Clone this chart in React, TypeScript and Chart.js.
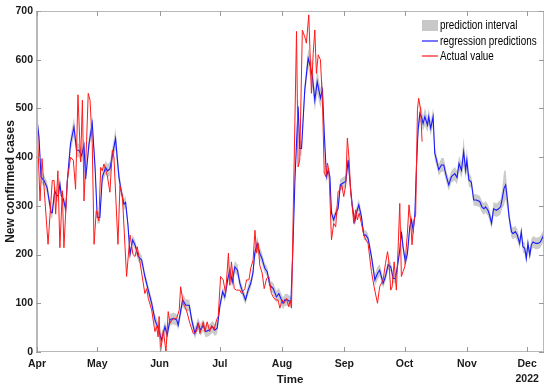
import { useEffect, useRef } from 'react';
import { Chart, registerables } from 'chart.js';

Chart.register(...registerables);

// x values are days since 1 Apr 2022
const monthTickDays = [0, 30, 61, 91, 122, 153, 183, 214, 244];
const monthTickLabels = ['Apr', 'May', 'Jun', 'Jul', 'Aug', 'Sep', 'Oct', 'Nov', 'Dec'];
const yearLabel = '2022';
const yTicks = [0, 100, 200, 300, 400, 500, 600, 700];

const predDays = [
  0, 1, 2, 3.5, 5, 7, 7.6, 8.8, 9.8, 10.6, 11.4, 12.1, 13.1, 14.3, 15.1, 16.7, 18.4, 19.7, 20.9, 22.2,
  23.4, 24.2, 25.9, 27.5, 28.9, 30, 31.3, 32.5, 34.2, 35, 36.3, 37.5, 39.1, 40.8, 42, 43.3, 44.1, 45.3, 46.3, 47.6,
  48.8, 50.4, 52.1, 53.7, 55.4, 57.1, 58.7, 60.3, 62, 63.7, 64.8, 66.2, 67.8, 69.5, 70.3, 72.5, 74.1, 75.8, 77, 78.6,
  80.2, 81.4, 82.7, 84, 85.7, 87.4, 88.5, 89.7, 91, 92.4, 93.5, 94.9, 96, 97.2, 98.5, 99.8, 101, 102.6, 103.8, 105.1,
  106.4, 107.5, 108.4, 109.6, 110.9, 112, 113.4, 114.6, 115.9, 117.6, 119.2, 120.4, 121.4, 122.5, 123.4, 124.7, 125.9, 126.4, 127.3, 128.4,
  130, 130.8, 131.7, 133.3, 135, 136.1, 137.1, 138.3, 139.5, 140.5, 141.1, 142.1, 143, 144.1, 145, 145.8, 146.6, 147.7, 148.7, 149.9,
  151, 152.4, 153.7, 154.9, 156, 157, 158.2, 159, 160.2, 161.5, 162.7, 163.7, 164.8, 166.5, 168.2, 169.5, 170.6, 172.3, 173.5, 174.8,
  176.1, 177.3, 178.4, 179.4, 180.6, 181.4, 182.2, 183.4, 184.4, 185.6, 186.4, 187.3, 188.1, 188.9, 189.7, 190.6, 191.4, 192.2, 193.1, 194.4,
  195, 196, 197.2, 198, 198.9, 200, 201.3, 202.5, 203.8, 205, 206.3, 208, 209.1, 210.1, 211.3, 212.4, 213.4, 214, 215, 216.2,
  217.4, 218.7, 220.4, 221.5, 222.5, 223.3, 224.5, 225.3, 226.3, 227.3, 228.7, 229.8, 230.8, 231.6, 232.5, 233.3, 234.2, 235, 236.2, 237,
  238.1, 239.1, 240.3, 241.1, 241.9, 242.8, 243.6, 244.4, 245.3, 246.1, 246.9, 248.3, 249.4, 250.6, 251.9, 252.4,
];

const predValues = [
  476, 440, 359, 352, 338, 286, 286, 331, 321, 321, 345, 321, 314, 293, 352, 428, 462, 414, 414, 403,
  424, 355, 428, 469, 379, 276, 276, 359, 379, 372, 376, 403, 438, 359, 328, 303, 307, 260, 200, 230,
  220, 196, 189, 155, 127, 100, 66, 49, 25, 52, 35, 66, 69, 66, 55, 107, 96, 96, 66, 38,
  59, 45, 55, 42, 45, 52, 45, 49, 93, 124, 113, 148, 168, 144, 175, 168, 141, 120, 107, 127,
  141, 162, 203, 223, 203, 192, 172, 165, 137, 130, 113, 120, 110, 100, 107, 107, 103, 103, 200, 353,
  504, 418, 418, 538, 603, 586, 565, 517, 555, 534, 521, 538, 449, 360, 374, 360, 285, 271, 285, 295,
  343, 347, 350, 394, 340, 299, 268, 285, 302, 278, 240, 240, 233, 196, 148, 161, 168, 141, 155, 179,
  175, 151, 151, 175, 209, 247, 216, 185, 202, 257, 271, 250, 281, 380, 455, 490, 483, 469, 483, 466,
  483, 459, 483, 408, 394, 374, 384, 384, 360, 343, 360, 366, 358, 387, 373, 411, 373, 394, 353, 349,
  312, 312, 309, 298, 294, 298, 291, 281, 264, 294, 291, 294, 298, 315, 336, 343, 312, 278, 247, 243,
  247, 240, 223, 247, 216, 213, 192, 223, 199, 220, 226, 223, 223, 226, 237, 243,
];

// half-width of the grey prediction interval at each prediction point
const predBand = [
  15, 15, 12, 12, 12, 12, 12, 12, 12, 12, 14, 12, 12, 12, 12, 15, 20, 14, 14, 14,
  14, 12, 15, 18, 12, 12, 12, 12, 14, 14, 14, 15, 22, 14, 12, 12, 12, 10, 10, 10,
  10, 10, 10, 10, 10, 10, 12, 12, 12, 12, 12, 12, 12, 12, 10, 14, 12, 12, 10, 12,
  12, 12, 12, 12, 12, 12, 12, 12, 10, 10, 10, 10, 12, 12, 12, 12, 10, 10, 10, 10,
  10, 10, 12, 14, 12, 12, 10, 10, 10, 12, 12, 12, 12, 12, 12, 12, 12, 10, 10, 12,
  15, 15, 15, 15, 20, 22, 25, 22, 25, 22, 20, 20, 14, 12, 12, 12, 10, 10, 10, 10,
  12, 12, 12, 14, 12, 10, 10, 12, 12, 10, 10, 10, 10, 10, 12, 14, 12, 10, 10, 10,
  10, 10, 10, 10, 12, 12, 12, 10, 12, 12, 12, 12, 12, 15, 15, 18, 18, 15, 18, 15,
  18, 15, 18, 14, 12, 12, 14, 14, 12, 12, 12, 14, 14, 16, 16, 30, 16, 25, 14, 12,
  12, 12, 12, 12, 12, 12, 12, 12, 12, 14, 14, 15, 15, 20, 35, 30, 18, 12, 12, 12,
  12, 12, 12, 12, 12, 12, 12, 12, 12, 12, 12, 12, 12, 12, 12, 12,
];

const actualDays = [
  0, 0.5, 1.5, 2.5, 3.5, 5.5, 7.6, 8.5, 9.3, 10.4, 11.4, 12.6, 13.4, 15.1, 16.7, 18.1, 19.2, 20.4, 21.7, 22.6,
  23.4, 24.7, 25.5, 26.4, 27.5, 28.4, 29.5, 30.8, 31.7, 32.5, 33.3, 35, 36.3, 37.5, 38.3, 40.3, 41.3, 42.5, 44.6, 46.3,
  47.8, 48.8, 49.9, 51.2, 53.7, 54.6, 55.4, 57.1, 58.7, 59.5, 60.3, 60.8, 61.5, 62.9, 64.2, 65.3, 66.2, 67.8, 69.5, 70.8,
  71.5, 72.8, 74.4, 76.1, 77.8, 79.4, 80.3, 81.1, 82.8, 83.6, 84.7, 86, 86.9, 88.1, 89.4, 90.2, 91.4, 92.7, 93.9, 95.3,
  96, 96.8, 98.2, 99.3, 101, 101.8, 103.5, 104.3, 105.5, 106.4, 107.6, 108.5, 109.3, 110.1, 110.9, 112.1, 113.1, 114.3, 115.4, 116.7,
  117.6, 118.7, 120, 120.9, 122, 123, 124.2, 125.3, 126, 126.7, 129.2, 130, 130.8, 132.1, 133.3, 134.1, 135.3, 136.6, 137.5, 138.3,
  139.1, 140, 141.1, 142.1, 143, 143.8, 144.6, 145.4, 146.6, 147.7, 148.7, 149.9, 150.7, 151.7, 152.7, 153.7, 154.5, 155.4, 156.2, 157,
  157.7, 158.7, 159.5, 160.4, 161.5, 162.7, 163.7, 164.8, 166.5, 167.8, 169.5, 170.6, 172.3, 173.5, 174.5, 175.1, 176.1, 176.8, 177.8, 178.9,
  179.8, 180.6, 181.4, 182.2, 183.1, 184.4, 185.2, 186.1, 186.7, 187.7, 188.5, 189.4, 190, 191, 191.7,
];

const actualValues = [
  490, 421, 310, 397, 338, 221, 352, 352, 283, 372, 214, 331, 214, 352, 400, 393, 334, 528, 390, 517,
  310, 434, 531, 517, 428, 221, 290, 269, 379, 372, 386, 362, 328, 414, 400, 221, 341, 321, 155, 240,
  200, 196, 216, 186, 120, 130, 110, 86, 42, 52, 31, 73, 0, 45, 0, 83, 59, 69, 69, 86,
  134, 100, 86, 59, 38, 42, 59, 38, 62, 42, 62, 42, 55, 45, 66, 73, 155, 148, 120, 203,
  137, 185, 130, 127, 127, 120, 130, 148, 148, 172, 189, 250, 203, 223, 178, 162, 130, 151, 155, 120,
  113, 107, 107, 90, 107, 100, 110, 93, 107, 90, 658, 380, 394, 661, 647, 634, 692, 531, 613, 661,
  572, 610, 600, 517, 367, 360, 388, 367, 230, 264, 257, 329, 333, 343, 319, 343, 439, 394, 326, 295,
  264, 292, 271, 285, 264, 240, 230, 223, 165, 134, 100, 134, 148, 182, 206, 189, 127, 134, 185, 127,
  216, 305, 155, 165, 175, 244, 302, 264, 220, 271, 281, 497, 521, 497, 432,
];

const FONT_SANS = "'Liberation Sans', Arial, Helvetica, sans-serif";

export default function App() {
  const ref = useRef<HTMLCanvasElement>(null);

  useEffect(() => {
    document.body.style.margin = '0';
    const canvas = ref.current;
    if (!canvas) return;

    const lower = predDays.map((d, i) => ({ x: d, y: predValues[i] - predBand[i] }));
    const upper = predDays.map((d, i) => ({ x: d, y: predValues[i] + predBand[i] }));
    const pred = predDays.map((d, i) => ({ x: d, y: predValues[i] }));
    const actual = actualDays.map((d, i) => ({ x: d, y: actualValues[i] }));

    const boxPlugin = {
      id: 'matlabBox',
      afterDatasetsDraw(chart: any) {
        const { ctx, chartArea: a, scales } = chart;
        const xs = scales.x;
        const ys = scales.y;
        ctx.save();
        ctx.strokeStyle = '#b8b8b8';
        ctx.lineWidth = 1;
        ctx.strokeRect(a.left + 0.5, a.top + 0.5, a.right - a.left - 1, a.bottom - a.top - 1);
        ctx.lineWidth = 2;
        ctx.beginPath();
        ctx.moveTo(a.left + 1, a.top);
        ctx.lineTo(a.left + 1, a.bottom);
        ctx.stroke();
        ctx.strokeStyle = '#9a9a9a';
        ctx.lineWidth = 1;
        ctx.beginPath();
        monthTickDays.forEach((d) => {
          const px = Math.round(xs.getPixelForValue(d)) + 0.5;
          ctx.moveTo(px, a.bottom);
          ctx.lineTo(px, a.bottom - 5);
          ctx.moveTo(px, a.top);
          ctx.lineTo(px, a.top + 5);
        });
        yTicks.forEach((v) => {
          const py = Math.round(ys.getPixelForValue(v)) + 0.5;
          ctx.moveTo(a.left, py);
          ctx.lineTo(a.left + 5, py);
          ctx.moveTo(a.right, py);
          ctx.lineTo(a.right - 5, py);
        });
        ctx.stroke();
        ctx.restore();
      },
      afterDraw(chart: any) {
        const { ctx } = chart;
        const ds = chart.data.datasets;
        ctx.save();
        const x0 = 422;
        const x1 = 438;
        ctx.fillStyle = '#c8c8c8';
        ctx.fillRect(x0, 20, x1 - x0, 11);
        ctx.lineWidth = 1.2;
        ctx.strokeStyle = '#1a1aff';
        ctx.beginPath();
        ctx.moveTo(x0, 41);
        ctx.lineTo(x1, 41);
        ctx.stroke();
        ctx.strokeStyle = '#ff1a1a';
        ctx.beginPath();
        ctx.moveTo(x0, 56);
        ctx.lineTo(x1, 56);
        ctx.stroke();
        ctx.fillStyle = '#000';
        ctx.font = `13px ${FONT_SANS}`;
        ctx.textBaseline = 'middle';
        ctx.textAlign = 'left';
        const rows: [string, number][] = [
          [ds[1].label, 25.5],
          [ds[2].label, 41],
          [ds[3].label, 56],
        ];
        rows.forEach(([text, y]) => {
          ctx.save();
          ctx.translate(440, y);
          ctx.scale(0.76, 1);
          ctx.fillText(text, 0, 0);
          ctx.restore();
        });
        ctx.restore();
      },
    };

    const chart = new Chart(canvas, {
      type: 'line',
      data: {
        datasets: [
          {
            label: 'lower bound',
            data: lower,
            borderWidth: 0,
            borderColor: 'rgba(0,0,0,0)',
            pointRadius: 0,
            fill: false,
            order: 3,
          },
          {
            label: 'prediction interval',
            data: upper,
            borderWidth: 0,
            borderColor: 'rgba(0,0,0,0)',
            backgroundColor: 'rgba(200,200,200,0.95)',
            pointRadius: 0,
            fill: '-1',
            order: 2,
          },
          {
            label: 'regression predictions',
            data: pred,
            borderColor: '#1a1aff',
            borderWidth: 1.1,
            pointRadius: 0,
            fill: false,
            order: 1,
          },
          {
            label: 'Actual value',
            data: actual,
            borderColor: '#ff1a1a',
            borderWidth: 1,
            pointRadius: 0,
            fill: false,
            order: 0,
          },
        ],
      },
      options: {
        animation: false,
        responsive: false,
        devicePixelRatio: 1,
        layout: { padding: { top: 11, right: 6, left: 0, bottom: 0 } },
        plugins: {
          legend: { display: false },
          tooltip: { enabled: false },
        },
        scales: {
          x: {
            type: 'linear',
            min: -0.5,
            max: 252.4,
            grid: { display: false, drawTicks: false },
            border: { display: false },
            afterBuildTicks: (scale: any) => {
              scale.ticks = monthTickDays.map((v) => ({ value: v }));
            },
            afterFit: (scale: any) => {
              scale.height = 39;
            },
            ticks: {
              autoSkip: false,
              maxRotation: 0,
              padding: 4,
              color: '#1a1a1a',
              font: { family: FONT_SANS, size: 10.5, weight: 'bold', lineHeight: 1.45 },
              callback: (value: any) => {
                const i = monthTickDays.indexOf(Number(value));
                if (i < 0) return '';
                return i === monthTickDays.length - 1 ? [monthTickLabels[i], yearLabel] : monthTickLabels[i];
              },
            },
            title: {
              display: true,
              text: 'Time',
              color: '#1a1a1a',
              font: { family: FONT_SANS, size: 11.5, weight: 'bold', lineHeight: 1.2 },
              padding: { top: 0, bottom: 4 },
            },
          },
          y: {
            min: 0,
            max: 700,
            grid: { display: false, drawTicks: false },
            border: { display: false },
            afterBuildTicks: (scale: any) => {
              scale.ticks = yTicks.map((v) => ({ value: v }));
            },
            afterFit: (scale: any) => {
              scale.width = 36;
            },
            ticks: {
              padding: 3,
              color: '#1a1a1a',
              font: { family: FONT_SANS, size: 10.5, weight: 'bold' },
            },
            title: {
              display: true,
              text: 'New confirmed cases',
              color: '#1a1a1a',
              font: { family: FONT_SANS, size: 12, weight: 'bold', lineHeight: 1.2 },
              padding: { top: 3, bottom: 0 },
            },
          },
        },
      },
      plugins: [boxPlugin],
    });

    return () => chart.destroy();
  }, []);

  return <canvas ref={ref} width={550} height={391} style={{ display: 'block', width: 550, height: 391 }} />;
}
